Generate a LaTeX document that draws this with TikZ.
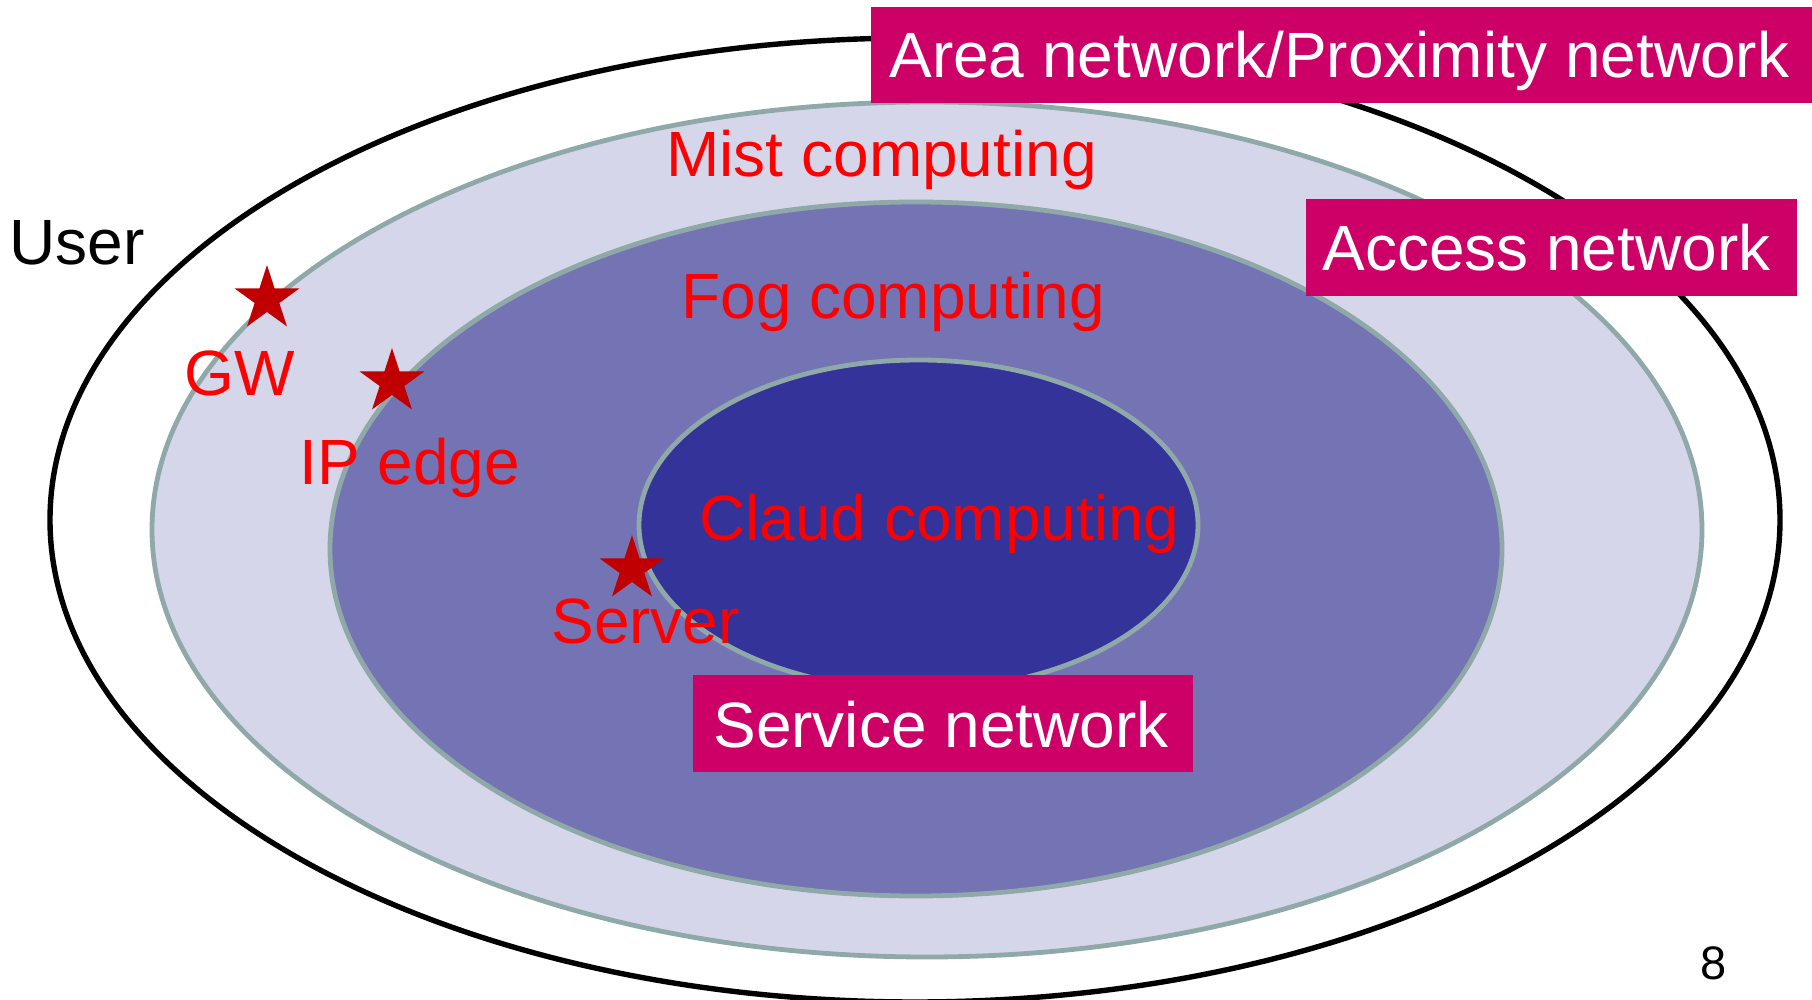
\documentclass[tikz,border=0pt]{standalone}
\usepackage{fontspec}
\setmainfont{Liberation Sans}
\usetikzlibrary{shapes.geometric}

\definecolor{ringline}{HTML}{8FA8A8}
\definecolor{mistfill}{HTML}{D5D6EA}
\definecolor{fogfill}{HTML}{7474B5}
\definecolor{cloudfill}{HTML}{333399}
\definecolor{tagfill}{HTML}{CC0066}
\definecolor{starred}{HTML}{C00000}
\definecolor{labelred}{HTML}{FF0000}

\tikzset{
  ring/.style={draw=ringline, line width=2.4pt},
  tagbox/.style={fill=tagfill},
  tagtext/.style={text=white, inner sep=0pt, anchor=base west, font=\fontsize{32}{38}\selectfont},
  redtext/.style={text=labelred, inner sep=0pt, anchor=base west, font=\fontsize{32}{38}\selectfont},
  blacktext/.style={text=black, inner sep=0pt, anchor=base west, font=\fontsize{32}{38}\selectfont},
  marker/.style={star, star points=5, star point ratio=2.618, minimum size=34pt, inner sep=0pt, fill=starred, draw=none}
}

\begin{document}
\begin{tikzpicture}[x=0.5pt, y=-0.5pt]
  \useasboundingbox (0,0) rectangle (1812,1000);

  % nested rings
  \draw[black, line width=2.7pt] (915,520) ellipse [x radius=865, y radius=482];
  \draw[ring, fill=mistfill] (927,529.5) ellipse [x radius=775, y radius=427.5];
  \draw[ring, fill=fogfill] (916,549) ellipse [x radius=586, y radius=347];
  \draw[ring, fill=cloudfill] (918.5,525) ellipse [x radius=279.5, y radius=165];

  % network tags
  \fill[tagbox] (871,7) rectangle (1820,103);
  \node[tagtext] (area) at (889,78) {Area network/Proximity network};
  \fill[tagbox] (1306,199) rectangle (1797,296);
  \node[tagtext] (access) at (1322,271) {Access network};
  \fill[tagbox] (693,675) rectangle (1193,772);
  \node[tagtext] (service) at (713,747) {Service network};

  % layer names
  \node[redtext] (mist) at (666,177) {Mist computing};
  \node[redtext] (fog) at (681,319) {Fog computing};
  \node[redtext] (cloud) at (699,540) {Claud computing};

  % devices
  \node[marker] (gwstar) at (267,299) {};
  \node[marker] (ipstar) at (392,382) {};
  \node[marker] (srvstar) at (632,569) {};
  \node[redtext] (gw) at (184,396) {GW};
  \node[redtext] (ipedge) at (299,485) {IP edge};
  \node[redtext] (server) at (551,643) {Server};

  \node[blacktext] (user) at (9,265) {User};
  \node[text=black, inner sep=0pt, anchor=base west, font=\fontsize{23.5}{28}\selectfont] (pagenum) at (1700,979) {8};
\end{tikzpicture}
\end{document}
